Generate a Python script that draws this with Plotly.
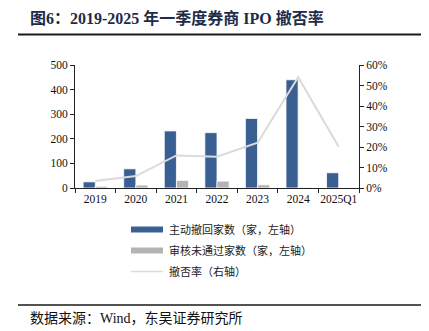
import plotly.graph_objects as go

# Annual broker IPO withdrawals / rejections and the combined withdraw-reject rate
years = ["2019", "2020", "2021", "2022", "2023", "2024", "2025Q1"]
withdrawn = [25, 78, 232, 225, 283, 440, 62]
rejected = [7, 12, 31, 28, 13, 3, 0]
reject_rate = [0.034, 0.058, 0.159, 0.153, 0.221, 0.54, 0.201]

legend_names = ["主动撤回家数（家，左轴）", "审核未通过家数（家，左轴）", "撤否率（右轴）"]
title_text = "图6：2019-2025 年一季度券商 IPO 撤否率"
source_text = "数据来源：Wind，东吴证券研究所"

BLUE = "#3A5F92"
GREY = "#B4B4B4"
LINE = "#DADADA"
SERIF = "Times New Roman, Liberation Serif, Noto Sans CJK SC"

W, H = 429, 331
px = lambda x: x / W
py = lambda y: 1 - y / H

fig = go.Figure()
fig.add_bar(x=years, y=withdrawn, name=legend_names[0], marker=dict(color=BLUE, line=dict(color="white", width=0.8)))
fig.add_bar(x=years, y=rejected, name=legend_names[1], marker=dict(color=GREY, line=dict(color="white", width=0.8)))
fig.add_scatter(x=years, y=reject_rate, name=legend_names[2], mode="lines",
                line=dict(color=LINE, width=2), yaxis="y2")

axis_font = dict(family=SERIF, size=11.5, color="#111")
fig.update_layout(
    width=W, height=H,
    margin=dict(l=0, r=0, t=0, b=0),
    paper_bgcolor="white", plot_bgcolor="white",
    barmode="group", bargap=0.4, bargroupgap=0,
    showlegend=False,
    xaxis=dict(domain=[px(75), px(359)], type="category", showline=True, linecolor="#222",
               linewidth=1, ticks="outside", tickson="boundaries", ticklen=4, tickcolor="#222",
               tickfont=axis_font, tickangle=0, showgrid=False, automargin=False),
    yaxis=dict(domain=[py(188), py(65)], range=[0, 500], dtick=100, showline=True, linecolor="#222",
               linewidth=1, ticks="outside", ticklen=4, tickcolor="#222", tickfont=axis_font,
               showgrid=False, zeroline=False, automargin=False),
    yaxis2=dict(overlaying="y", side="right", anchor="x", range=[0, 0.6], dtick=0.1, tickformat=".0%",
                showline=True, linecolor="#222", linewidth=1, ticks="outside", ticklen=4,
                tickcolor="#222", tickfont=axis_font, showgrid=False, zeroline=False, automargin=False),
)

# Title and source lines
fig.add_annotation(x=px(28), y=py(18), xref="paper", yref="paper", xanchor="left", yanchor="middle",
                   text="<b>" + title_text + "</b>", showarrow=False,
                   font=dict(family=SERIF, size=16, color="#1E2B4A"))
fig.add_shape(type="line", xref="paper", yref="paper", x0=px(18), x1=px(421), y0=py(34.5), y1=py(34.5),
              line=dict(color="#1a1a1a", width=2))
fig.add_shape(type="line", xref="paper", yref="paper", x0=px(18), x1=px(421), y0=py(305), y1=py(305),
              line=dict(color="#1a1a1a", width=1.5))
fig.add_annotation(x=px(28), y=py(318), xref="paper", yref="paper", xanchor="left", yanchor="middle",
                   text=source_text, showarrow=False,
                   font=dict(family=SERIF, size=14, color="#111"))

# Legend drawn as swatches + labels
rows = [229.5, 250.5, 271.5]
for i, (name, yy) in enumerate(zip(legend_names, rows)):
    if i < 2:
        fig.add_shape(type="rect", xref="paper", yref="paper", x0=px(131), x1=px(163),
                      y0=py(yy + 3), y1=py(yy - 3), line=dict(width=0),
                      fillcolor=BLUE if i == 0 else GREY)
    else:
        fig.add_shape(type="line", xref="paper", yref="paper", x0=px(131), x1=px(163),
                      y0=py(yy), y1=py(yy), line=dict(color=LINE, width=1.5))
    fig.add_annotation(x=px(167), y=py(yy), xref="paper", yref="paper", xanchor="left", yanchor="middle",
                       text=name, showarrow=False,
                       font=dict(family=SERIF, size=11, color="#222"))

fig.write_html("out.html")
